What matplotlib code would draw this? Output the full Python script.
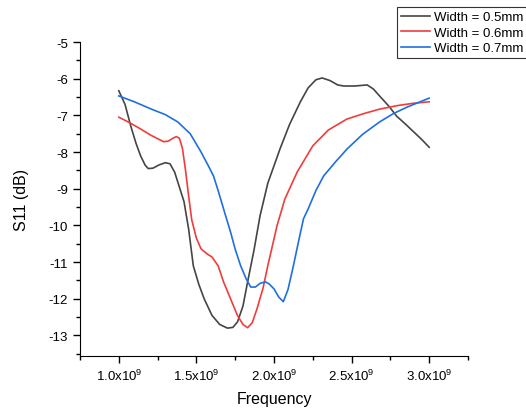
import numpy as np
import matplotlib
matplotlib.use('Agg')
import matplotlib.pyplot as plt
from matplotlib.ticker import MultipleLocator, FuncFormatter

plt.rcParams['font.family'] = ['Liberation Sans', 'DejaVu Sans']
plt.rcParams['mathtext.fontset'] = 'custom'
plt.rcParams['mathtext.rm'] = 'Liberation Sans'

# frequency in units of 1e9 Hz, S11 in dB
f_05 = [1.00, 1.04, 1.077, 1.11, 1.14, 1.17, 1.19, 1.22, 1.26, 1.30, 1.33, 1.36, 1.39, 1.42,
        1.45, 1.48, 1.515, 1.55, 1.60, 1.65, 1.70, 1.735, 1.765, 1.80, 1.83, 1.87, 1.91, 1.96,
        2.04, 2.10, 2.17, 2.22, 2.27, 2.31, 2.36, 2.41, 2.45, 2.52, 2.60, 2.64, 2.68,
        2.74, 2.79, 2.85, 2.90, 2.95, 3.00]
s_05 = [-6.33, -6.70, -7.29, -7.75, -8.10, -8.36, -8.45, -8.44, -8.35, -8.29, -8.32, -8.55, -8.95, -9.35,
        -10.10, -11.10, -11.60, -12.00, -12.45, -12.70, -12.80, -12.78, -12.63, -12.20, -11.54, -10.70, -9.74, -8.85,
        -7.90, -7.25, -6.63, -6.25, -6.03, -5.98, -6.05, -6.17, -6.20, -6.20, -6.17, -6.28, -6.47,
        -6.75, -7.02, -7.25, -7.45, -7.65, -7.87]

f_06 = [1.00, 1.07, 1.14, 1.21, 1.29, 1.32, 1.35, 1.37, 1.39, 1.41, 1.43, 1.45, 1.47, 1.50, 1.53,
        1.57, 1.60, 1.64, 1.675, 1.72, 1.765, 1.80, 1.83, 1.86, 1.89, 1.93, 1.96, 2.02,
        2.07, 2.15, 2.25, 2.35, 2.47, 2.58, 2.68, 2.80, 2.90, 3.00]
s_06 = [-7.05, -7.20, -7.37, -7.55, -7.72, -7.70, -7.62, -7.58, -7.62, -7.90, -8.50, -9.20, -9.85, -10.35, -10.64,
        -10.78, -10.86, -11.10, -11.54, -12.00, -12.46, -12.70, -12.79, -12.65, -12.28, -11.70, -11.10, -10.00,
        -9.28, -8.54, -7.83, -7.40, -7.10, -6.95, -6.83, -6.73, -6.67, -6.63]

f_07 = [1.00, 1.10, 1.21, 1.30, 1.38, 1.46, 1.53, 1.58, 1.61, 1.64, 1.675, 1.72, 1.75,
        1.785, 1.82, 1.85, 1.88, 1.91, 1.945, 1.97, 2.00, 2.03, 2.06, 2.09, 2.125, 2.16,
        2.19, 2.22, 2.27, 2.32, 2.40, 2.47, 2.57, 2.68, 2.77, 2.86, 2.93, 3.00]
s_07 = [-6.47, -6.63, -6.83, -6.98, -7.18, -7.50, -8.00, -8.40, -8.65, -9.05, -9.55, -10.18, -10.65,
        -11.10, -11.45, -11.68, -11.68, -11.58, -11.54, -11.60, -11.73, -11.95, -12.08, -11.75, -11.10, -10.40,
        -9.82, -9.55, -9.05, -8.65, -8.25, -7.92, -7.52, -7.18, -6.95, -6.77, -6.65, -6.53]

labels = ['Width = 0.5mm', 'Width = 0.6mm', 'Width = 0.7mm']
colors = ['#454545', '#f23c3c', '#1f6fe0']

fig = plt.figure(figsize=(5.26, 4.10), dpi=100)
ax = fig.add_axes([80/526, 1-357/410, 388/526, 314/410])

for f, s, lab, c in zip([f_05, f_06, f_07], [s_05, s_06, s_07], labels, colors):
    ax.plot(np.array(f)*1e9, s, color=c, lw=1.2, label=lab)

ax.set_xlim(0.75e9, 3.25e9)
ax.set_ylim(-13.56, -5)
ax.spines['top'].set_visible(False)
ax.spines['right'].set_visible(False)
ax.xaxis.set_major_locator(MultipleLocator(0.5e9))
ax.xaxis.set_minor_locator(MultipleLocator(0.25e9))
ax.yaxis.set_major_locator(MultipleLocator(1))
ax.yaxis.set_minor_locator(MultipleLocator(0.5))
ax.xaxis.set_major_formatter(FuncFormatter(lambda v, p: f'{v/1e9:.1f}x10$^9$'))
ax.yaxis.set_major_formatter(FuncFormatter(lambda v, p: f'{v:.0f}'))
ax.tick_params(which='major', length=5, width=1, labelsize=9.5)
ax.tick_params(which='minor', length=3, width=1)
ax.set_xlabel('Frequency', fontsize=11.5, labelpad=6)
ax.set_ylabel('S11 (dB)', fontsize=11.5, labelpad=14)

leg = fig.legend(loc='upper left', bbox_to_anchor=(397/526, 1-8/410), fontsize=9.5,
                 frameon=True, fancybox=False, edgecolor='#333333', framealpha=1,
                 handlelength=2.2, handletextpad=0.3, labelspacing=0.25, borderpad=0.3,
                 borderaxespad=0)
leg.get_frame().set_linewidth(0.8)

fig.savefig('out.png', dpi=100)
